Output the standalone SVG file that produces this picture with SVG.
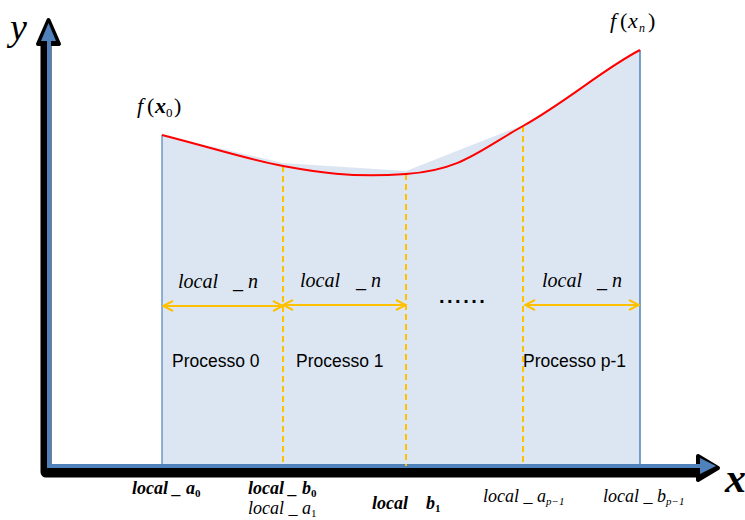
<svg xmlns="http://www.w3.org/2000/svg" width="745" height="520" viewBox="0 0 745 520">
<style>
.it{font-family:"Liberation Serif","Times New Roman",serif;font-style:italic;fill:#000}
.bi{font-family:"Liberation Serif","Times New Roman",serif;font-style:italic;font-weight:bold;fill:#000}
.up{font-style:normal}
.lbl{font-family:"Liberation Sans",Arial,sans-serif;font-size:17.5px;fill:#000}
.dash{stroke:#ffc000;stroke-width:2;stroke-dasharray:6,4;fill:none}
.dim{stroke:#ffc000;stroke-width:2;fill:none}
</style>
<defs>
<marker id="oa" viewBox="0 0 12 12" refX="11" refY="6" markerWidth="12" markerHeight="12" markerUnits="userSpaceOnUse" orient="auto-start-reverse">
<path d="M1,1 L11,6 L1,11" fill="none" stroke="#ffc000" stroke-width="2"/>
</marker>
</defs>
<g id="area">
<path d="M162,135 L283,163 L406,171 L523,125 C580,92 610,70 640,50 L640,466 L162,466 Z" fill="#dce6f2"/>
<line x1="162" y1="135" x2="162" y2="466" stroke="#4f81bd" stroke-width="1.2"/>
<line x1="640" y1="50" x2="640" y2="466" stroke="#4f81bd" stroke-width="1.5"/>
</g>
<g id="axes">
<path d="M46,40 L46,472 L702,472" fill="none" stroke="#000" stroke-width="11" stroke-linejoin="round"/>
<path d="M38,44 L48.5,20 L59,44 Z" fill="#000" stroke="#000" stroke-width="4" stroke-linejoin="round"/>
<path d="M698,456 L718,468 L698,480 Z" fill="#000" stroke="#000" stroke-width="4" stroke-linejoin="round"/>
<path d="M49,40 L49,466 L702,466" fill="none" stroke="#4f81bd" stroke-width="4"/>
<path d="M41,41 L48.5,23 L56,41 Z" fill="#4f81bd"/>
<path d="M700,458 L716,466 L700,474 Z" fill="#4f81bd"/>
</g>
<g id="dividers">
<line class="dash" x1="283" y1="166" x2="283" y2="466"/>
<line class="dash" x1="406" y1="174" x2="406" y2="466"/>
<line class="dash" x1="523" y1="126" x2="523" y2="466"/>
</g>
<g id="curve">
<path d="M162,135 C220,150 250,160 283,166 S350,178 406,174 S480,150 523,126 S605,68 640,50" fill="none" stroke="#ff0000" stroke-width="2"/>
</g>
<g id="connectors">
<line class="dim" x1="163" y1="306" x2="283" y2="306" marker-start="url(#oa)" marker-end="url(#oa)"/>
<line class="dim" x1="283" y1="305" x2="406" y2="305" marker-start="url(#oa)" marker-end="url(#oa)"/>
<line class="dim" x1="525" y1="305" x2="639" y2="305" marker-start="url(#oa)" marker-end="url(#oa)"/>
</g>
<g id="labels">
<text class="it" x="10" y="40" font-size="38">y</text>
<text class="bi" x="725" y="492" font-size="42">x</text>
<text class="it" x="137" y="113" font-size="22">f</text>
<text class="it up" x="147" y="113" font-size="22">(</text>
<text class="bi" x="155" y="113" font-size="22">x</text>
<text class="it up" x="166" y="117" font-size="13">0</text>
<text class="it up" x="174" y="113" font-size="22">)</text>
<text class="it" x="610" y="28" font-size="22">f</text>
<text class="it up" x="620" y="28" font-size="22">(</text>
<text class="it" x="628" y="28" font-size="22">x</text>
<text class="it" x="639" y="32" font-size="12">n</text>
<text class="it up" x="648" y="28" font-size="22">)</text>
<text class="it" x="178" y="288" font-size="20">local</text>
<text class="it" x="233" y="288" font-size="20">_ n</text>
<text class="it" x="300" y="287" font-size="20">local</text>
<text class="it" x="356" y="287" font-size="20">_ n</text>
<text class="it" x="542" y="287" font-size="20">local</text>
<text class="it" x="597" y="287" font-size="20">_ n</text>
<text class="lbl" x="172" y="367">Processo 0</text>
<text class="lbl" x="296" y="367">Processo 1</text>
<text class="lbl" x="523" y="367">Processo p-1</text>
<text x="439" y="303" font-family="Liberation Sans,Arial,sans-serif" font-size="20" font-weight="bold" letter-spacing="2.5">......</text>
<text class="bi" x="132" y="494" font-size="18">local _ a<tspan class="up" font-size="11" dy="3">0</tspan></text>
<text class="bi" x="248" y="494" font-size="18">local _ b<tspan class="up" font-size="11" dy="3">0</tspan></text>
<text class="it" x="248" y="514" font-size="18">local _ a<tspan class="up" font-size="11" dy="3">1</tspan></text>
<text class="bi" x="372" y="509" font-size="18">local<tspan x="426">b</tspan><tspan class="up" font-size="11" dy="3">1</tspan></text>
<text class="it" x="483" y="502" font-size="18">local _ a<tspan font-size="11" dy="3">p−1</tspan></text>
<text class="it" x="603" y="502" font-size="18">local _ b<tspan font-size="11" dy="3">p−1</tspan></text>
</g>
</svg>
